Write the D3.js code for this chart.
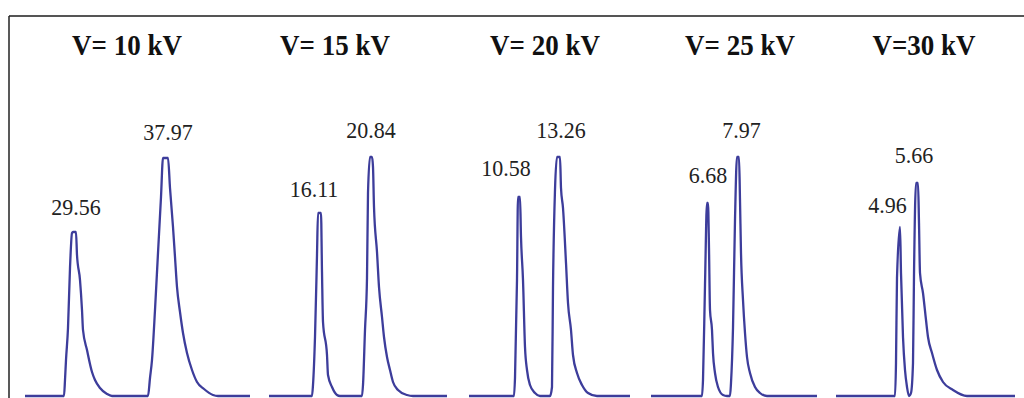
<!DOCTYPE html>
<html>
<head>
<meta charset="utf-8">
<script src="https://cdn.jsdelivr.net/npm/d3@7"></script>
<style>
    html, body { margin: 0; padding: 0; background: #fff; }
    svg { display: block; }
</style>
</head>
<body>
<div id="chart"></div>
<script>
'use strict';

// panel titles (accelerating voltage)
var voltages = ['V= 10 kV', 'V= 15 kV', 'V= 20 kV', 'V= 25 kV', 'V=30 kV'];

// values printed above the two peaks of each trace
var peakLabels = [
    ['29.56', '37.97'],
    ['16.11', '20.84'],
    ['10.58', '13.26'],
    ['6.68', '7.97'],
    ['4.96', '5.66']
];

// traces as [time, signal] pairs
var trace10 = [[0, 0], [39, 0], [40, 16], [41, 36], [43, 68], [45, 128], [47, 163], [48, 164], [51, 164],
    [52, 141], [55, 116], [57, 86], [58, 66], [62, 46], [67, 24], [70, 16], [75, 8], [82, 2], [87, 0],
    [123, 0], [125, 18], [127, 36], [130, 86], [133, 143], [136, 199], [138, 238], [143, 238], [145, 208],
    [148, 169], [150, 139], [152, 109], [155, 84], [158, 63], [162, 43], [167, 26], [172, 14], [179, 7],
    [188, 1], [193, 0], [225, 0]];

var trace15 = [[0, 0], [43, 0], [44, 11], [46, 59], [48, 141], [49, 183], [52, 183], [53, 124], [54, 74],
    [58, 41], [59, 21], [63, 9], [68, 1], [71, 0], [93, 0], [94, 11], [96, 66], [98, 118], [99, 203],
    [101, 239], [103, 239], [104, 229], [105, 189], [108, 144], [110, 109], [113, 79], [115, 59], [118, 39],
    [121, 26], [124, 14], [129, 6], [138, 1], [144, 0], [178, 0]];

var trace20 = [[0, 0], [45, 0], [46, 18], [48, 116], [49, 199], [51, 199], [52, 159], [54, 116], [56, 49],
    [58, 26], [61, 11], [66, 3], [71, 0], [81, 0], [83, 9], [84, 109], [86, 206], [88, 239], [91, 239],
    [92, 208], [94, 188], [97, 133], [99, 93], [102, 66], [104, 41], [108, 23], [113, 11], [119, 3],
    [128, 0], [161, 0]];

var trace25 = [[0, 0], [51, 0], [52, 16], [54, 111], [56, 193], [57, 193], [58, 148], [59, 86], [61, 66],
    [62, 43], [64, 23], [67, 9], [72, 1], [76, 0], [79, 0], [80, 13], [82, 68], [84, 176], [86, 239],
    [88, 239], [89, 196], [90, 143], [92, 96], [94, 63], [96, 39], [99, 23], [104, 9], [109, 3], [116, 0],
    [166, 0]];

var trace30 = [[0, 0], [59, 0], [60, 33], [61, 118], [64, 169], [65, 123], [67, 59], [69, 26], [71, 9],
    [73, 0], [75, 3], [77, 33], [78, 121], [80, 213], [82, 213], [83, 173], [84, 123], [87, 103], [90, 76],
    [92, 59], [96, 43], [101, 26], [107, 14], [117, 6], [131, 0], [179, 0]];

var traces = [trace10, trace15, trace20, trace25, trace30];

// layout
var w = 1024;
var h = 398;
var panelX = [[25, 250], [269, 447], [469, 630], [651, 817], [836, 1015]];
var titleX = [127, 335, 545, 740, 924];
var labelNudge = [
    [[1.5, 17], [2.5, 18]],
    [[-5.5, 16], [0, 19]],
    [[-13, 21], [2.5, 19]],
    [[0.5, 20], [3.5, 19]],
    [[-12.5, 14], [-3, 20]]
];
var serif = '"Liberation Serif", "Times New Roman", serif';

var svg = d3.select('#chart')
        .append('svg')
        .attr('width', w)
        .attr('height', h);

// frame: top and left edge only
svg.append('line')
        .attr('x1', 9).attr('x2', w)
        .attr('y1', 16).attr('y2', 16)
        .attr('stroke', '#555')
        .attr('stroke-width', 2);
svg.append('line')
        .attr('x1', 9).attr('x2', 9)
        .attr('y1', 16).attr('y2', h)
        .attr('stroke', '#222')
        .attr('stroke-width', 1.5);

var y = d3.scaleLinear()
        .domain([0, 240])
        .range([396, 156]);

function findPeaks(data) {
    var peaks = [];
    for (var i = 1; i < data.length - 1; i++) {
        if (data[i][1] > data[i - 1][1]) {
            var j = i;
            while (j + 1 < data.length && data[j + 1][1] === data[i][1]) {
                j++;
            }
            if (j + 1 < data.length && data[j + 1][1] < data[i][1]) {
                peaks.push({t: (data[i][0] + data[j][0]) / 2, s: data[i][1]});
            }
            i = j;
        }
    }
    return peaks;
}

traces.forEach(function (data, p) {
    var x = d3.scaleLinear()
            .domain(d3.extent(data, function (d) { return d[0]; }))
            .range(panelX[p]);

    var line = d3.line()
            .curve(d3.curveMonotoneX)
            .x(function (d) { return x(d[0]); })
            .y(function (d) { return y(d[1]); });

    var g = svg.append('g');

    g.append('path')
            .datum(data)
            .attr('d', line)
            .attr('fill', 'none')
            .attr('stroke', '#3d3d9b')
            .attr('stroke-width', 2.3)
            .attr('stroke-linejoin', 'round');

    g.append('text')
            .attr('transform', 'translate(' + titleX[p] + ',55) scale(1,1.1)')
            .attr('text-anchor', 'middle')
            .attr('font-family', serif)
            .attr('font-weight', 'bold')
            .attr('font-size', '27px')
            .attr('fill', '#111')
            .text(voltages[p]);

    var peaks = findPeaks(data);
    g.selectAll('text.peak')
            .data(peaks)
            .enter()
            .append('text')
            .attr('class', 'peak')
            .attr('transform', function (d, i) {
                return 'translate(' + (x(d.t) + labelNudge[p][i][0]) + ',' +
                        (y(d.s) - labelNudge[p][i][1]) + ') scale(1,1.08)';
            })
            .attr('text-anchor', 'middle')
            .attr('font-family', serif)
            .attr('font-size', '22px')
            .attr('fill', '#222')
            .text(function (d, i) { return peakLabels[p][i]; });
});
</script>
</body>
</html>
